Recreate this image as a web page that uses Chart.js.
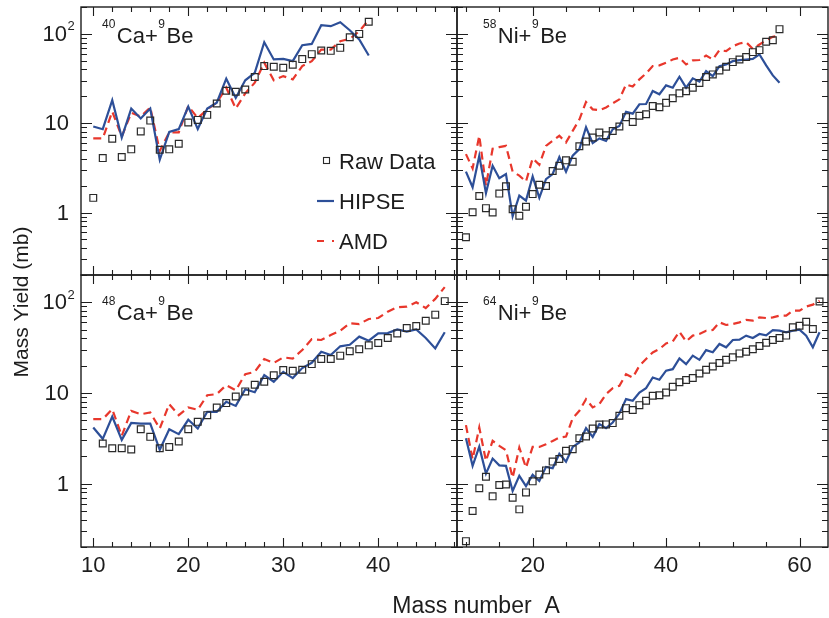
<!DOCTYPE html>
<html>
<head>
<meta charset="utf-8">
<script src="https://cdn.jsdelivr.net/npm/chart.js@4.4.0/dist/chart.umd.js"></script>
<style>
    html, body { margin: 0; padding: 0; background: #fff; }
    #wrap { position: relative; width: 829px; height: 618px; overflow: hidden; background: #fff; }
    #wrap canvas { position: absolute; left: 0; top: 0; }
</style>
</head>
<body>
<div id="wrap">
    <canvas id="p-ca40" width="834" height="618"></canvas>
    <canvas id="p-ni58" width="834" height="618"></canvas>
    <canvas id="p-ca48" width="834" height="618"></canvas>
    <canvas id="p-ni64" width="834" height="618"></canvas>
</div>
<script>
// ---- data (mass yield in mb vs mass number A) ----
const aCa40 = [10,11,12,13,14,15,16,17,18,19,20,21,22,23,24,25,26,27,28,29,30,31,32,33,34,35,36,37,38,39];
const rawCa40 = [1.46,4.07,6.7,4.18,5.1,8.1,10.7,5.05,5.1,5.9,10.2,10.9,12.4,16.6,23.1,22.5,23.9,32.9,43.6,42.8,41.8,45.1,52.2,59.3,65.2,64.6,69.8,91.8,100,137];
const hipseCa40 = [9.18,8.57,18.1,6.9,14.6,11.3,14.6,3.9,8.0,8.6,15.4,8.6,14.6,17.0,31.5,19.2,30.2,36.7,80.7,51.8,52.6,49.5,74.8,77.3,125,122,135,110,86.5,57.3];
const amdCa40 = [6.75,6.75,13.5,7.1,13.1,11.9,15.0,4.9,7.9,7.9,15.6,11.4,14.3,17.0,25.0,14.6,21.6,28.4,47.6,30.2,33.7,31.0,43.6,49.5,66.8,66.8,82.8,88,107,144];

const aNi58 = [10,11,12,13,14,15,16,17,18,19,20,21,22,23,24,25,26,27,28,29,30,31,32,33,34,35,36,37,38,39,40,41,42,43,44,45,46,47,48,49,50,51,52,53,54,55,56,57];
const rawNi58 = [0.53,1.01,1.53,1.12,1.0,1.63,1.97,1.09,0.92,1.16,1.61,2.05,1.98,2.92,3.34,3.84,3.71,5.53,6.25,6.92,7.87,7.35,8.2,9.2,11.7,10.3,12.1,12.6,15.6,15.1,16.9,19.0,21.6,22.8,25.0,28.2,32.9,35.2,39.0,42.9,48.3,51.7,55.0,62.5,65.8,81.5,85,113];
const hipseNi58 = [2.87,1.92,4.33,1.65,3.34,2.42,2.70,0.91,1.55,1.36,2.54,1.46,2.37,2.70,4.18,2.87,4.33,5.13,9.02,5.98,6.75,6.35,8.57,9.34,13.4,12.8,16.3,16.4,23.0,21.1,26.5,25.0,33.1,25.0,31.8,29.2,38.4,33.7,43.6,45.5,49.5,50.8,51.7,52.6,58.9,44.4,34.3,28.4];
const amdNi58 = [4.51,3.12,7.23,2.0,5.18,5.4,5.58,2.87,2.59,2.22,4.04,3.43,5.58,6.35,7.23,6.1,8.2,11.0,17.3,14.3,14.0,15.0,16.7,18.5,27.2,25.7,31.0,36.1,43.6,44.4,47.5,51.7,54.0,45.5,50.5,51,57.3,51.7,65.8,64.1,72.8,78,80.7,68,76,85,92.6,95.8];

const aCa48 = [10,11,12,13,14,15,16,17,18,19,20,21,22,23,24,25,26,27,28,29,30,31,32,33,34,35,36,37,38,39,40,41,42,43,44,45,46,47];
const rawCa48 = [null,2.77,2.46,2.46,2.38,3.98,3.28,2.46,2.54,2.91,3.98,4.8,5.69,6.92,7.73,9.15,10.4,12.3,13.3,15.7,17.9,17.6,18.0,20.8,23.7,23.7,25.8,28.8,30.3,33.5,35.6,40.4,45.4,52.0,54.7,62.7,73.1,103];
const hipseCa48 = [4.16,3.12,5.5,3.04,4.68,4.6,4.6,2.36,3.98,3.51,5.06,4.06,6.2,6.2,7.98,7.2,11.0,10.2,15.7,13.3,17.1,14.6,18.8,21.5,28.5,26.2,32.7,34,41.8,37.7,45.4,45.8,50.3,47.4,50.3,40.4,31.0,46.7];
const amdCa48 = [5.14,5.14,6.62,3.37,6.35,5.83,6.09,4.06,7.53,5.69,6.92,6.52,9.45,9.7,12.2,10.7,16.1,17.1,23.7,21.4,24.7,24.0,29.7,39.3,38.4,43.6,48.6,58.6,57.6,65.5,67.1,78.9,88.1,89.6,100,86.5,109,147];

const aNi64 = [10,11,12,13,14,15,16,17,18,19,20,21,22,23,24,25,26,27,28,29,30,31,32,33,34,35,36,37,38,39,40,41,42,43,44,45,46,47,48,49,50,51,52,53,54,55,56,57,58,59,60,61,62,63];
const rawNi64 = [0.232,0.499,0.888,1.19,0.724,0.966,0.98,0.70,0.52,0.80,1.06,1.26,1.40,1.75,1.87,2.30,2.40,3.17,3.31,4.05,4.49,4.5,4.65,5.60,6.8,6.5,7.34,8.2,9.3,9.45,10.1,11.7,13.1,13.9,14.6,16.4,18.0,19.6,21.4,23.2,24.7,27.3,28.5,30.3,32.9,35.8,38.4,40.4,42.9,53,55.2,61.1,50.7,102];
const hipseNi64 = [3.17,1.57,2.56,1.29,1.89,1.59,1.57,0.83,1.22,0.94,1.25,1.07,1.53,1.48,2.14,1.75,2.54,2.84,4.09,3.28,4.53,4.09,4.72,5.93,8.55,8.2,10.1,11.3,14.8,14.0,17.6,18.3,24.0,20.8,25.8,23.2,29.7,28.1,34.7,31.9,38.4,38.7,42.9,40.4,44.7,43.2,49.4,48.6,46.7,48.6,49.9,42.9,31.9,46.7];
const amdNi64 = [4.42,1.86,4.16,1.78,2.96,2.61,2.33,1.16,2.50,1.50,2.54,2.54,2.72,2.96,3.22,3.3,5.27,6.35,8.55,6.92,7.53,9.7,11.3,12.0,16.1,14.8,19.9,23.7,28.0,30.5,35.2,37.1,47.4,37,42.9,44.7,48.6,49.4,60.1,56.2,57.7,60.1,63.8,62.7,68.2,67.1,68.2,71.3,71.3,80.9,80.9,89.6,94.2,104];

const yTicks = [1, 10, 100];
const xTicksLeft = [10, 20, 30, 40];
const xTicksRight = [20, 40, 60];

// ---- look ----
const FONT = '"Liberation Sans", Arial, Helvetica, sans-serif';
const INK = '#1d1d1d';
const BLUE = '#2d4f98';
const RED = '#e8372c';
const W = 834, H = 618;
const COLS = [81, 457, 831];   // frame x edges
const ROWS = [7, 275, 547];    // frame y edges

function pts(a, v) {
    return a.map((x, i) => ({ x, y: v[i] })).filter((p) => p.y != null);
}

function text(ctx, s, x, y, size, align = 'left', base = 'alphabetic') {
    ctx.font = `${size}px ${FONT}`;
    ctx.textAlign = align;
    ctx.textBaseline = base;
    ctx.fillText(s, x, y);
    return ctx.measureText(s).width;
}

const panelFrame = {
    id: 'panelFrame',
    afterDraw(chart, args, o) {
        const { ctx, chartArea: a, scales: { x, y } } = chart;
        ctx.save();
        ctx.strokeStyle = INK;
        ctx.fillStyle = INK;
        ctx.lineWidth = 1.4;
        ctx.strokeRect(a.left, a.top, a.right - a.left, a.bottom - a.top);

        // inward ticks, all four sides
        ctx.lineWidth = 1.1;
        ctx.beginPath();
        for (const d of [0.1, 1, 10, 100]) {
            for (let k = 1; k <= 9; k++) {
                const v = k * d;
                if (v < y.min || v > y.max) continue;
                const py = Math.round(y.getPixelForValue(v)) + 0.5;
                const len = k === 1 ? 11 : 6;
                ctx.moveTo(a.left, py); ctx.lineTo(a.left + len, py);
                ctx.moveTo(a.right, py); ctx.lineTo(a.right - len, py);
            }
        }
        for (let v = Math.ceil(x.min / o.xMinor) * o.xMinor; v <= x.max; v += o.xMinor) {
            const px = Math.round(x.getPixelForValue(v)) + 0.5;
            const len = v % o.xMajor === 0 ? 9 : 5;
            ctx.moveTo(px, a.top); ctx.lineTo(px, a.top + len);
            ctx.moveTo(px, a.bottom); ctx.lineTo(px, a.bottom - len);
        }
        ctx.stroke();

        if (o.yLabels) {
            for (const v of yTicks) {
                const py = y.getPixelForValue(v);
                if (v === 100) {
                    text(ctx, '10', 67, py + 1, 22, 'right', 'middle');
                    text(ctx, '2', 67.5, py - 7, 13, 'left', 'middle');
                } else {
                    text(ctx, String(v), 69, py + 1, 22, 'right', 'middle');
                }
            }
        }
        if (o.xLabels) {
            for (const v of o.xLabels) {
                text(ctx, String(v), x.getPixelForValue(v), 572, 22, 'center');
            }
        }

        // reaction label, e.g. 40Ca+9Be
        let tx = o.title.x;
        for (const [s, sup] of o.title.parts) {
            tx += sup ? text(ctx, s, tx, o.title.y - 15, 12) + 1.5
                      : text(ctx, s, tx, o.title.y, 22) + 0.5;
        }

        if (o.legend) {
            ctx.lineWidth = 1.1;
            ctx.strokeStyle = '#2a2a2a';
            ctx.strokeRect(323.5, 157.5, 6, 6);
            text(ctx, 'Raw Data', 339, 163, 22, 'left', 'middle');
            ctx.lineWidth = 2.2;
            ctx.strokeStyle = BLUE;
            ctx.beginPath(); ctx.moveTo(317, 201); ctx.lineTo(334, 201); ctx.stroke();
            text(ctx, 'HIPSE', 339, 203, 22, 'left', 'middle');
            ctx.strokeStyle = RED;
            ctx.setLineDash([7, 8]);
            ctx.beginPath(); ctx.moveTo(317, 241); ctx.lineTo(334, 241); ctx.stroke();
            ctx.setLineDash([]);
            text(ctx, 'AMD', 339, 243, 22, 'left', 'middle');
        }

        if (o.axisTitles) {
            text(ctx, 'Mass number  A', 476, 613, 23, 'center');
            ctx.save();
            ctx.translate(28, 302);
            ctx.rotate(-Math.PI / 2);
            text(ctx, 'Mass Yield (mb)', 0, 0, 21, 'center', 'alphabetic');
            ctx.restore();
        }
        ctx.restore();
    },
};

function panel(id, col, row, xMin, xMax, a, raw, hipse, amd, frame) {
    const left = COLS[col], right = COLS[col + 1], top = ROWS[row], bottom = ROWS[row + 1];
    return new Chart(document.getElementById(id), {
        type: 'line',
        data: {
            datasets: [
                { label: 'Raw Data', data: pts(a, raw), showLine: false, pointStyle: 'rect',
                  pointRadius: 4.8, pointBorderWidth: 1.2, pointBorderColor: '#2a2a2a',
                  pointBackgroundColor: 'rgba(255,255,255,0)', order: 0 },
                { label: 'HIPSE', data: pts(a, hipse), borderColor: BLUE, borderWidth: 2.2,
                  pointRadius: 0, tension: 0, order: 1 },
                { label: 'AMD', data: pts(a, amd), borderColor: RED, borderWidth: 2.2,
                  borderDash: [8, 5], pointRadius: 0, tension: 0, order: 2 },
            ],
        },
        options: {
            responsive: false,
            animation: false,
            events: [],
            layout: { padding: { left, top, right: W - right, bottom: H - bottom } },
            scales: {
                x: { type: 'linear', min: xMin, max: xMax, display: false },
                y: { type: 'logarithmic', min: 0.2, max: 200, display: false },
            },
            plugins: { legend: { display: false }, tooltip: { enabled: false }, panelFrame: frame },
        },
        plugins: [panelFrame],
    });
}

panel('p-ca40', 0, 0, 8.71, 48.29, aCa40, rawCa40, hipseCa40, amdCa40, {
    xMinor: 2, xMajor: 10, yLabels: true, legend: true,
    title: { x: 102, y: 43, parts: [['40', true], ['Ca+', false], ['9', true], ['Be', false]] },
});
panel('p-ni58', 1, 0, 8.66, 64.27, aNi58, rawNi58, hipseNi58, amdNi58, {
    xMinor: 5, xMajor: 20,
    title: { x: 483, y: 43, parts: [['58', true], ['Ni+', false], ['9', true], ['Be', false]] },
});
panel('p-ca48', 0, 1, 8.71, 48.29, aCa48, rawCa48, hipseCa48, amdCa48, {
    xMinor: 2, xMajor: 10, yLabels: true, xLabels: xTicksLeft, axisTitles: true,
    title: { x: 102, y: 320, parts: [['48', true], ['Ca+', false], ['9', true], ['Be', false]] },
});
panel('p-ni64', 1, 1, 8.66, 64.27, aNi64, rawNi64, hipseNi64, amdNi64, {
    xMinor: 5, xMajor: 20, xLabels: xTicksRight,
    title: { x: 483, y: 320, parts: [['64', true], ['Ni+', false], ['9', true], ['Be', false]] },
});
</script>
</body>
</html>
